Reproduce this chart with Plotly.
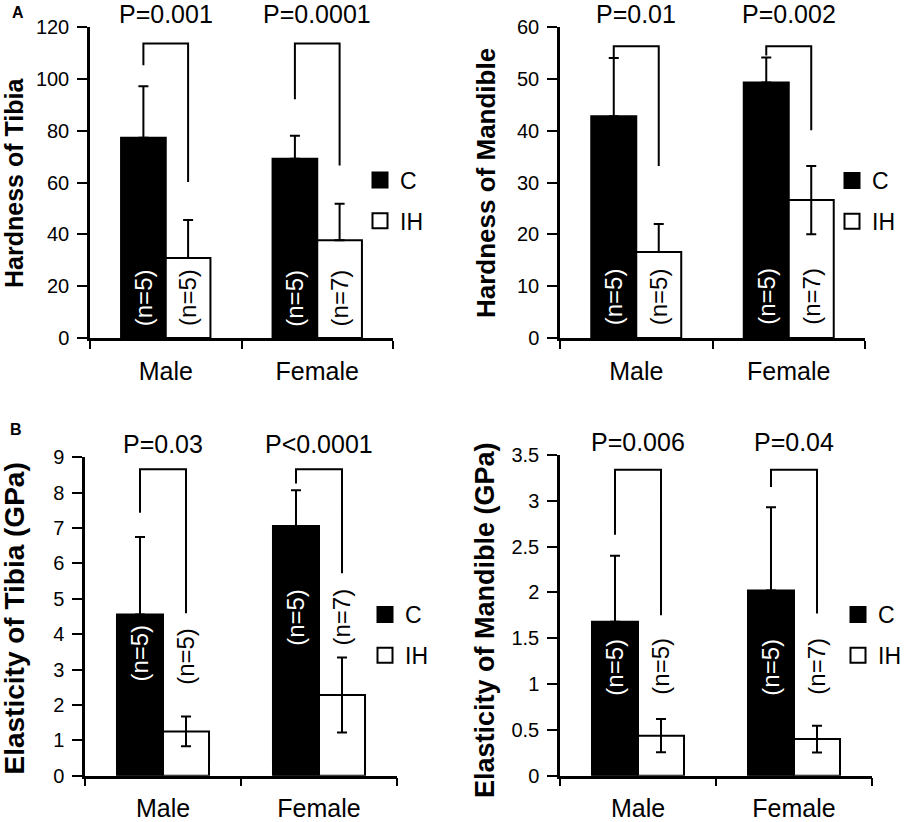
import plotly.graph_objects as go

categories = ["Male", "Female"]
cat_x = [0, 1]

# panel A left: hardness of tibia
tib_hard_c = [77.3, 69.2]
tib_hard_c_err = [19.8, 8.8]
tib_hard_ih = [30.9, 37.7]
tib_hard_ih_err = [14.6, 14.1]
tib_hard_ih_errminus = [0, 0]
tib_hard_bracket = [[105.2, 113.6, 60.2], [92.1, 113.6, 66.6]]
tib_hard_p = ["P=0.001", "P=0.0001"]
tib_hard_n_y = [15.5, 15.5]

# panel A right: hardness of mandible
mand_hard_c = [42.8, 49.3]
mand_hard_c_err = [11.2, 4.8]
mand_hard_ih = [16.6, 26.6]
mand_hard_ih_err = [5.4, 6.6]
mand_hard_ih_errminus = [0, 6.6]
mand_hard_bracket = [[54.1, 56.3, 33.2], [54.5, 56.3, 40.1]]
mand_hard_p = ["P=0.01", "P=0.002"]
mand_hard_n_y = [8, 8]

# panel B left: elasticity of tibia
tib_el_c = [4.56, 7.06]
tib_el_c_err = [2.19, 1.01]
tib_el_ih = [1.25, 2.28]
tib_el_ih_err = [0.42, 1.06]
tib_el_ih_errminus = [0.42, 1.06]
tib_el_bracket = [[7.43, 8.66, 4.59], [8.26, 8.66, 5.72]]
tib_el_p = ["P=0.03", "P<0.0001"]
tib_el_n_y_c = [3.48, 4.49]
tib_el_n_y_ih = [3.36, 4.47]

# panel B right: elasticity of mandible
mand_el_c = [1.68, 2.02]
mand_el_c_err = [0.72, 0.91]
mand_el_ih = [0.437, 0.40]
mand_el_ih_err = [0.182, 0.146]
mand_el_ih_errminus = [0.182, 0.146]
mand_el_bracket = [[2.63, 3.34, 1.75], [3.15, 3.34, 1.77]]
mand_el_p = ["P=0.006", "P=0.04"]
mand_el_n_y = [1.19, 1.19]

n_c = ["(n=5)", "(n=5)"]
n_ih = ["(n=5)", "(n=7)"]

FONT = "Liberation Sans, Arial, sans-serif"
W = 0.295  # bar width in category units
FW, FH = 909, 822


def px(x):
    return x / FW


def py(y):
    return 1 - y / FH


panels = [
    dict(ax="", c=tib_hard_c, ce=tib_hard_c_err, ih=tib_hard_ih, ie=tib_hard_ih_err,
         iem=tib_hard_ih_errminus, br=tib_hard_bracket, p=tib_hard_p,
         ny_c=tib_hard_n_y, ny_ih=tib_hard_n_y, title="Hardness of Tibia",
         xdom=[px(90), px(393)], ydom=[py(338), py(27)],
         yr=[0, 120], dt=20, tpos=(14, 183), tsize=25, leg=(360, 200.5)),
    dict(ax="2", c=mand_hard_c, ce=mand_hard_c_err, ih=mand_hard_ih, ie=mand_hard_ih_err,
         iem=mand_hard_ih_errminus, br=mand_hard_bracket, p=mand_hard_p,
         ny_c=mand_hard_n_y, ny_ih=mand_hard_n_y, title="Hardness of Mandible",
         xdom=[px(560), px(865)], ydom=[py(338), py(27)],
         yr=[0, 60], dt=10, tpos=(486, 183), tsize=26, leg=(832, 201)),
    dict(ax="3", c=tib_el_c, ce=tib_el_c_err, ih=tib_el_ih, ie=tib_el_ih_err,
         iem=tib_el_ih_errminus, br=tib_el_bracket, p=tib_el_p,
         ny_c=tib_el_n_y_c, ny_ih=tib_el_n_y_ih, title="Elasticity of Tibia (GPa)",
         xdom=[px(85), px(397)], ydom=[py(775.7), py(457.3)],
         yr=[0, 9], dt=1, tpos=(14, 618.5), tsize=28, leg=(365, 635)),
    dict(ax="4", c=mand_el_c, ce=mand_el_c_err, ih=mand_el_ih, ie=mand_el_ih_err,
         iem=mand_el_ih_errminus, br=mand_el_bracket, p=mand_el_p,
         ny_c=mand_el_n_y, ny_ih=mand_el_n_y, title="Elasticity of Mandible (GPa)",
         xdom=[px(560), px(872)], ydom=[py(775.7), py(455)],
         yr=[0, 3.5], dt=0.5, tpos=(485, 620), tsize=27, leg=(838, 635)),
]

fig = go.Figure()
annotations = []
layout = {}

for pn in panels:
    xa, ya = "x" + pn["ax"], "y" + pn["ax"]
    legname = "legend" + pn["ax"]

    fig.add_trace(go.Bar(
        x=cat_x, y=pn["c"], width=W, offset=-W, xaxis=xa, yaxis=ya,
        marker=dict(color="black", line=dict(color="black", width=2)),
        error_y=dict(type="data", array=pn["ce"], arrayminus=[0, 0], symmetric=False,
                     color="black", thickness=2, width=5),
        showlegend=False,
    ))
    fig.add_trace(go.Bar(
        x=cat_x, y=pn["ih"], width=W, offset=0, xaxis=xa, yaxis=ya,
        marker=dict(color="white", line=dict(color="black", width=2)),
        error_y=dict(type="data", array=pn["ie"], arrayminus=pn["iem"], symmetric=False,
                     color="black", thickness=2, width=5),
        showlegend=False,
    ))

    # significance brackets from C bar centre to IH bar centre
    bx, by = [], []
    for cx, (lo_l, top, lo_r) in zip(cat_x, pn["br"]):
        bx += [cx - W / 2, cx - W / 2, cx + W / 2, cx + W / 2, None]
        by += [lo_l, top, top, lo_r, None]
    fig.add_trace(go.Scatter(x=bx, y=by, mode="lines", xaxis=xa, yaxis=ya,
                             line=dict(color="black", width=2), showlegend=False,
                             hoverinfo="skip"))

    # legend entries
    for name, col, grp in [("C", "black", "c"), ("IH", "white", "ih")]:
        fig.add_trace(go.Scatter(
            x=[None], y=[None], mode="markers", name=name, xaxis=xa, yaxis=ya,
            marker=dict(symbol="square", size=15, color=col,
                        line=dict(color="black", width=2)),
            legend=legname, legendgroup=grp + pn["ax"],
        ))

    layout[legname] = dict(
        x=px(pn["leg"][0]), y=py(pn["leg"][1]), xanchor="left", yanchor="middle",
        font=dict(family=FONT, size=23, color="black"), bgcolor="rgba(0,0,0,0)",
        traceorder="grouped", tracegroupgap=8, itemclick=False,
    )

    for cx, txt in zip(cat_x, pn["p"]):
        annotations.append(dict(x=cx, y=1, xref=xa, yref=ya + " domain",
                                text=txt, showarrow=False, xanchor="center",
                                yanchor="bottom", yshift=-3,
                                font=dict(family=FONT, size=25, color="black")))
    for cx, txt, yy in zip(cat_x, n_c, pn["ny_c"]):
        annotations.append(dict(x=cx - W / 2, y=yy, xref=xa, yref=ya, text=txt,
                                showarrow=False, textangle=-90,
                                xanchor="center", yanchor="middle",
                                font=dict(family=FONT, size=24, color="white")))
    for cx, txt, yy in zip(cat_x, n_ih, pn["ny_ih"]):
        annotations.append(dict(x=cx + W / 2, y=yy, xref=xa, yref=ya, text=txt,
                                showarrow=False, textangle=-90,
                                xanchor="center", yanchor="middle",
                                font=dict(family=FONT, size=24, color="black")))

    annotations.append(dict(x=px(pn["tpos"][0]), y=py(pn["tpos"][1]),
                            xref="paper", yref="paper", text="<b>%s</b>" % pn["title"],
                            showarrow=False, textangle=-90,
                            xanchor="center", yanchor="middle",
                            font=dict(family=FONT, size=pn["tsize"], color="black")))

    layout["xaxis" + pn["ax"]] = dict(
        domain=pn["xdom"], anchor=ya, range=[-0.5, 1.5], automargin=False,
        tickvals=cat_x, ticktext=categories, ticks="", ticklabelstandoff=9,
        tickfont=dict(family=FONT, size=25, color="black"),
        showline=True, linecolor="black", linewidth=2.5, showgrid=False, zeroline=False,
        minor=dict(tickvals=[-0.5, 0.5, 1.5], ticks="outside", ticklen=8,
                   tickwidth=2, tickcolor="black"),
        fixedrange=True,
    )
    layout["yaxis" + pn["ax"]] = dict(
        domain=pn["ydom"], anchor=xa, range=pn["yr"], dtick=pn["dt"], tick0=0,
        automargin=False,
        ticks="outside", ticklen=10, tickwidth=2, tickcolor="black",
        ticklabelstandoff=4,
        tickfont=dict(family=FONT, size=20, color="black"),
        showline=True, linecolor="black", linewidth=2.5, showgrid=False, zeroline=False,
        fixedrange=True,
    )

for letter, (lx, ly) in [("A", (18, 12.5)), ("B", (16, 429))]:
    annotations.append(dict(x=px(lx), y=py(ly), xref="paper", yref="paper",
                            text="<b>%s</b>" % letter, showarrow=False,
                            xanchor="center", yanchor="middle",
                            font=dict(family=FONT, size=16, color="black")))

fig.update_layout(
    width=FW, height=FH, margin=dict(l=0, r=0, t=0, b=0, autoexpand=False),
    paper_bgcolor="white", plot_bgcolor="white",
    barmode="overlay", annotations=annotations, **layout,
)

# drop the page's default body margin so the figure sits at the window corner
fig.write_html("out.html", config={"displayModeBar": False},
               post_script="document.body.style.margin = '0';")
